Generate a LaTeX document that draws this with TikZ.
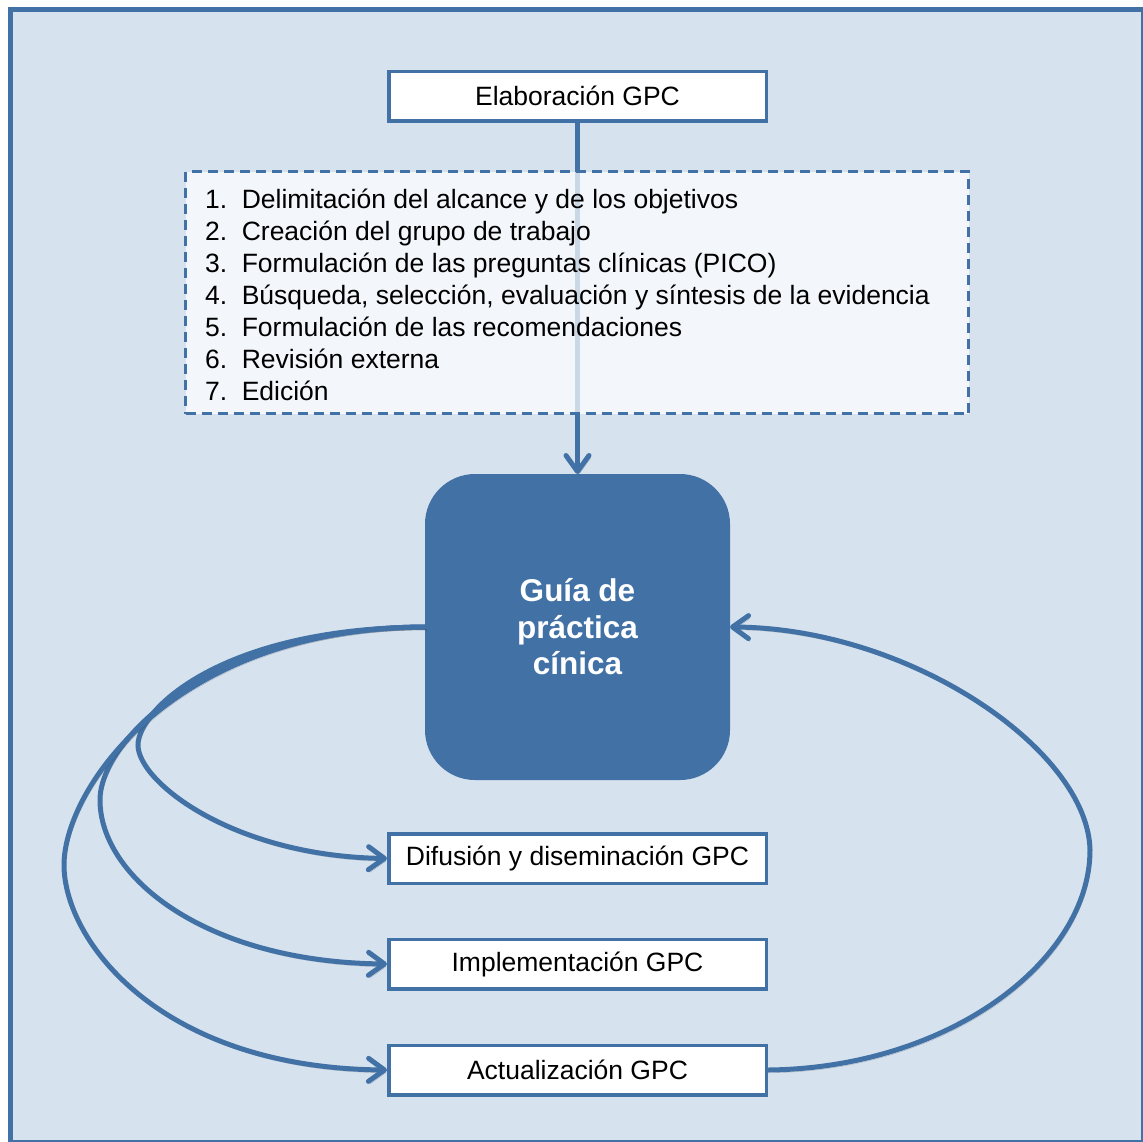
\documentclass[tikz,border=0pt]{standalone}
\usepackage{fontspec}
\setmainfont{Liberation Sans}
\usetikzlibrary{arrows.meta}
\definecolor{gpcblue}{RGB}{66,114,165}
\definecolor{gpcbg}{RGB}{215,226,239}

\begin{document}
\begin{tikzpicture}[x=1pt,y=-1pt,
  txt/.style={font=\fontsize{26.5}{32}\selectfont},
  stagebox/.style={draw=gpcblue, line width=3.5pt, fill=white,
    minimum width=377.5pt, minimum height=49.5pt, inner sep=0pt, txt},
  guiabox/.style={fill=gpcblue, rounded corners=50pt, minimum width=305pt,
    minimum height=306pt, inner sep=0pt, outer sep=0pt},
  stepsbox/.style={draw=gpcblue, line width=3pt, dash pattern=on 10pt off 6pt,
    fill=white, fill opacity=0.72, minimum width=783pt, minimum height=242pt,
    inner sep=0pt},
  flow/.style={draw=gpcblue, line width=5pt,
    -{Straight Barb[length=16pt,width=23pt,round]},
    preaction={draw=black, draw opacity=0.2,
      transform canvas={shift={(1.5pt,-2.8pt)}}}}
]
% page and outer frame
\useasboundingbox (0,0) rectangle (1143,1141);
\clip (0,0) rectangle (1143,1141);
\fill[white] (0,0) rectangle (1143,1141);
\draw[gpcblue, line width=5.5pt, fill=gpcbg] (10.5,9.5) rectangle (1144,1142.5);

% main nodes
\node[stagebox] (elab) at (577.5,96) {Elaboración GPC};
\node[guiabox] (guia) at (577.5,627) {};

% development arrow, seen faintly through the steps box
\draw[flow] (elab.south) -- (guia.north);

% steps box with the list of stages
\node[stepsbox] (pasos) at (577,292.5) {};
\node[anchor=north west, inner sep=0pt, txt] (lista) at (205,186)
  {\begin{tabular}[t]{@{}l@{\hspace{14.5pt}}l@{}}
   1.&Delimitación del alcance y de los objetivos\\
   2.&Creación del grupo de trabajo\\
   3.&Formulación de las preguntas clínicas (PICO)\\
   4.&Búsqueda, selección, evaluación y síntesis de la evidencia\\
   5.&Formulación de las recomendaciones\\
   6.&Revisión externa\\
   7.&Edición
   \end{tabular}};

\node[font=\bfseries\fontsize{31.5}{36.5}\selectfont, text=white, inner sep=0pt]
  (guiatxt) at (577.5,631)
  {\begin{tabular}{@{}c@{}}Guía de\\práctica\\cínica\end{tabular}};

% later stages
\node[stagebox] (dif) at (577.5,858.5) {Difusión y diseminación GPC};
\node[stagebox] (imp) at (577.5,964) {Implementación GPC};
\node[stagebox] (act) at (577.5,1070) {Actualización GPC};

% cycle connectors
\draw[flow] (guia.west) .. controls (221,628) and (138,710) .. (138,745)
  .. controls (138,782) and (233,856) .. (dif.west);
\draw[flow] (guia.west) .. controls (213,628) and (100,739) .. (100,800)
  .. controls (100,877) and (205,962) .. (imp.west);
\draw[flow] (guia.west) .. controls (173,628) and (64,789) .. (64,865)
  .. controls (64,940) and (159,1068) .. (act.west);
\draw[flow] (act.east) .. controls (950,1068) and (1090,960) .. (1090,850)
  .. controls (1088,750) and (910,628) .. (guia.east);
\end{tikzpicture}
\end{document}
